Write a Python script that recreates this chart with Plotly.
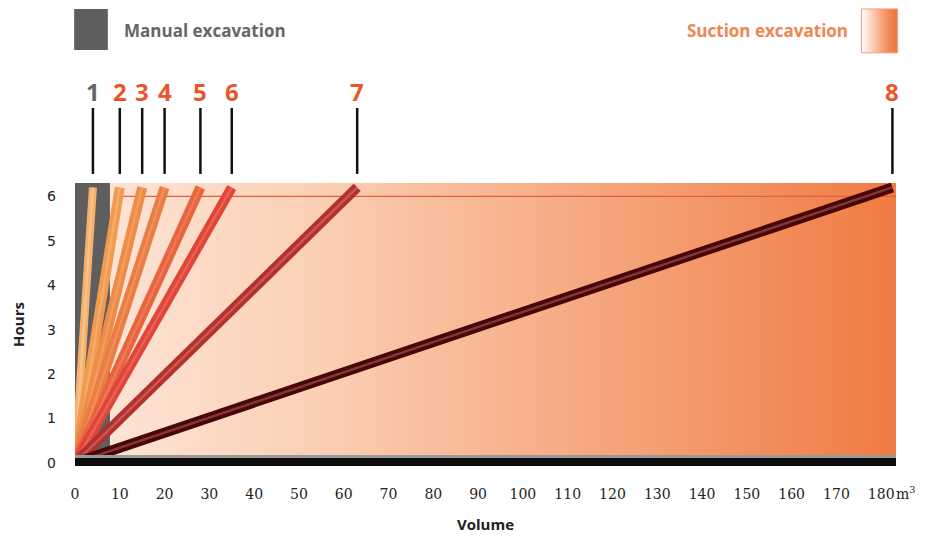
import plotly.graph_objects as go

# ---- data ----
machines = ["1", "2", "3", "4", "5", "6", "7", "8"]
volume_at_top = [4, 10, 15, 20, 28, 35, 63, 182.5]   # m3 reached at the top of the chart
hours_top = 6.2
x_ticks = [0, 10, 20, 30, 40, 50, 60, 70, 80, 90, 100, 110, 120, 130, 140, 150, 160, 170, 180]
y_ticks = [0, 1, 2, 3, 4, 5, 6]
manual_width = 7.8
x_max = 183.3
y_min, y_max = -0.07, 6.3

line_colors = ["#f6b06c", "#f19a50", "#ee8b47", "#eb7c43", "#e7643f", "#df4539", "#b3302d", "#4a0505"]
hi_colors = ["#fcd3a2", "#f8bc80", "#f6ac72", "#f4a06c", "#f28a66", "#ee7a66", "#d27a72", "#a86464"]
label_colors = ["#666666"] + ["#e8562a"] * 7

fig = go.Figure()

# background gradient (suction excavation area)
fig.add_trace(go.Scatter(
    x=[0, x_max, x_max, 0, 0], y=[y_min, y_min, y_max, y_max, y_min],
    mode="lines", fill="toself", line=dict(width=0),
    fillgradient=dict(type="horizontal",
                      colorscale=[[0, "#fde7da"], [0.3, "#fbcfb4"], [0.6, "#f6ab84"], [1, "#f07b43"]]),
    hoverinfo="skip", showlegend=False))

# manual excavation grey bar
fig.add_trace(go.Scatter(
    x=[0, manual_width, manual_width, 0, 0], y=[y_min, y_min, y_max, y_max, y_min],
    mode="lines", fill="toself", fillcolor="#5e5e5e", line=dict(width=0),
    hoverinfo="skip", showlegend=False))

# thin red line at 6 hours
fig.add_trace(go.Scatter(
    x=[volume_at_top[1] - 1, x_max], y=[6, 6], mode="lines",
    line=dict(color="#e2603c", width=1.2), hoverinfo="skip", showlegend=False))

# machine lines
for i, (m, v) in enumerate(zip(machines, volume_at_top)):
    w = 8 if i == 0 else 10
    fig.add_trace(go.Scatter(x=[0, v], y=[0, hours_top], mode="lines",
                             line=dict(color=line_colors[i], width=w),
                             hoverinfo="skip", showlegend=False))
    fig.add_trace(go.Scatter(x=[0, v], y=[0, hours_top], mode="lines",
                             line=dict(color=hi_colors[i], width=2.5),
                             opacity=0.55, hoverinfo="skip", showlegend=False))

shapes = []
annotations = []

# bottom dark base bar
shapes.append(dict(type="rect", xref="x", yref="y", x0=0, x1=x_max, y0=0.11, y1=0.18,
                   fillcolor="#9a9a9a", line=dict(width=0), layer="above"))
shapes.append(dict(type="rect", xref="x", yref="y", x0=0, x1=x_max, y0=y_min, y1=0.11,
                   fillcolor="#0c0c0c", line=dict(width=0), layer="above"))

# number markers above the chart
for i, (m, v) in enumerate(zip(machines, volume_at_top)):
    shapes.append(dict(type="line", xref="x", yref="paper", x0=v, x1=v, y0=1.032, y1=1.265,
                       line=dict(color="#111111", width=2.5)))
    annotations.append(dict(x=v, y=1.325, xref="x", yref="paper", text=f"<b>{m}</b>",
                            showarrow=False, font=dict(family="Open Sans", size=24, color=label_colors[i]),
                            xanchor="center", yanchor="middle"))

# legend: manual excavation
shapes.append(dict(type="rect", xref="paper", yref="paper", x0=-0.001, x1=0.04, y0=1.47, y1=1.615,
                   fillcolor="#5e5e5e", line=dict(width=0)))
annotations.append(dict(x=0.057, y=1.54, xref="paper", yref="paper", text="<b>Manual excavation</b>",
                        showarrow=False, xanchor="left", yanchor="middle",
                        font=dict(family="Open Sans", size=17, color="#666666")))

# legend: suction excavation (gradient swatch drawn as overlapping strips)
sw_x0, sw_x1 = 0.958, 1.002
sw_colors = ["#fffcfa", "#fef3ec", "#fdeadf", "#fce1d2", "#fbd8c5", "#facfb8", "#f9c6ab",
             "#f8bd9e", "#f7b491", "#f6ab85", "#f5a27a", "#f49a6f", "#f39265", "#f28a5c",
             "#f18453", "#f17f4c", "#f07b46", "#f07a43"]
n = len(sw_colors)
step = (sw_x1 - sw_x0) / n
for k, c in enumerate(sw_colors):
    shapes.append(dict(type="rect", xref="paper", yref="paper",
                       x0=sw_x0 + step * k, x1=min(sw_x1, sw_x0 + step * (k + 1) + 0.0015),
                       y0=1.46, y1=1.615, fillcolor=c, line=dict(width=0)))
shapes.append(dict(type="rect", xref="paper", yref="paper", x0=sw_x0, x1=sw_x1, y0=1.46, y1=1.615,
                   fillcolor="rgba(0,0,0,0)", line=dict(color="#f0a080", width=1)))
annotations.append(dict(x=0.944, y=1.54, xref="paper", yref="paper", text="<b>Suction excavation</b>",
                        showarrow=False, xanchor="right", yanchor="middle",
                        font=dict(family="Open Sans", size=17, color="#f08550")))

# m3 unit after 180
annotations.append(dict(x=x_ticks[-1], y=0, xref="x", yref="paper", text="m<sup>3</sup>",
                        showarrow=False, xanchor="left", yanchor="middle", xshift=13, yshift=-27,
                        font=dict(family="DejaVu Serif", size=14, color="#222222")))

# the page adds an 8px body margin, so the figure is 8px smaller and shifted
fig.update_layout(
    width=925, height=530,
    margin=dict(l=67, r=37, t=175, b=72),
    paper_bgcolor="white", plot_bgcolor="white",
    shapes=shapes, annotations=annotations,
    showlegend=False,
    xaxis=dict(range=[0, x_max], tickvals=x_ticks, ticktext=[str(t) for t in x_ticks],
               showgrid=False, zeroline=False, showline=False, ticks="", automargin=False,
               ticklabelstandoff=18,
               tickfont=dict(family="DejaVu Serif", size=14, color="#222222"),
               title=dict(text="<b>Volume</b>", font=dict(family="Open Sans", size=15, color="#222222"),
                          standoff=18)),
    yaxis=dict(range=[y_min, y_max], tickvals=y_ticks,
               showgrid=False, zeroline=False, showline=False, ticks="", automargin=False,
               ticklabelstandoff=18,
               tickfont=dict(family="DejaVu Sans", size=14, color="#222222"),
               title=dict(text="<b>Hours</b>", font=dict(family="Open Sans", size=15, color="#222222"),
                          standoff=18)),
)

fig.write_html("out.html")
